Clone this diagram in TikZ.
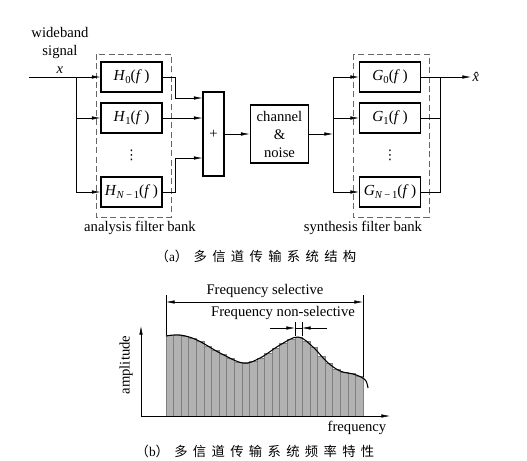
\documentclass[tikz,border=0pt]{standalone}
\usepackage{fontspec}
\setmainfont{Liberation Serif}
\newfontfamily\cjk[LetterSpace=40]{Noto Sans CJK SC}
\newfontfamily\symf{DejaVu Sans}
\usetikzlibrary{calc}
\usetikzlibrary{arrows.meta}
\newcommand{\filtf}[2]{\textit{#1}\raisebox{-0.35ex}{\footnotesize #2}(\textit{f}\,)}
\tikzset{
  filt/.style={draw, thick, minimum width=45.75pt, minimum height=22.5pt, inner sep=0pt, font=\fontsize{11.5}{13.5}\selectfont},
  bank/.style={draw=black!60, semithick, dash pattern=on 4.5pt off 2.5pt},
  sig/.style={-{Latex[length=6.5pt,width=2.6pt]}},
  bar/.style={fill=gray!60, draw=black!50, thin},
  capt/.style={font=\fontsize{10}{12}\selectfont},
  vdot/.style={inner sep=0pt, font=\symf\fontsize{10}{10}\selectfont},
}
\begin{document}
\begin{tikzpicture}[x=0.75pt, y=-0.75pt, font=\fontsize{11}{13.5}\selectfont]
\useasboundingbox (0,0) rectangle (527,460);

% (a) structure
\node[align=center] (src) at (60,50) {wideband\\signal\\\textit{x}};
\coordinate (in) at (29,77);
\coordinate (split) at (76,77);

\node[filt] (h0) at (131.5,77) {\filtf{H}{0}};
\node[filt] (h1) at (131.5,118) {\filtf{H}{1}};
\node[vdot] (hdots) at (131.5,155) {⋮};
\node[filt] (hn1) at (131.5,192) {\filtf{H}{\textit{N}\,−\,1}};
\draw[bank] (96,54) rectangle (171,217);
\node (alab) at (140,228) {analysis filter bank};

\node[draw, thick, minimum width=15.75pt, minimum height=63pt, inner sep=0pt] (sum) at (213.5,134) {+};
\node[draw, thick, align=center, minimum width=44pt, minimum height=43.5pt, inner sep=0pt] (chan) at (279.5,134) {channel\\\&\\noise};

\coordinate (split2) at (333,134);
\node[filt] (g0) at (390,77) {\filtf{G}{0}};
\node[filt] (g1) at (390,118) {\filtf{G}{1}};
\node[vdot] (gdots) at (390,155) {⋮};
\node[filt] (gn1) at (390,192) {\filtf{G}{\textit{N}\,−\,1}};
\draw[bank] (353,54) rectangle (429,217);
\node (slab) at (363,228) {synthesis filter bank};
\coordinate (merge) at (440,77);
\node[anchor=west, inner sep=1pt] (xhat) at (471,77) {\textit{\^x}};

\draw (in) -- (split);
\draw[sig] (split) -- (h0);
\draw[sig] (split |- h1) -- (h1);
\draw[sig] (split) |- (hn1);

\draw[sig] (h0.east) -- ++(13,0) |- ($(sum.west)+(0,-36)$);
\draw[sig] (h1) -- (h1 -| sum.west);
\draw[sig] (hn1.east) -- ++(13,0) |- ($(sum.west)+(0,24)$);
\draw[sig] (sum) -- (chan);

\draw[sig] (chan) -- (split2);
\draw (split2 |- g0) -- (split2 |- gn1);
\draw[sig] (split2 |- g0) -- (g0);
\draw[sig] (split2 |- g1) -- (g1);
\draw[sig] (split2 |- gn1) -- (gn1);

\draw[sig] (g0) -- (xhat);
\draw (g1) -| (merge);
\draw (gn1) -| (merge);

\node[capt] (capa) at (256,256) {{\cjk （}a{\cjk ）多信道传输系统结构}};

% (b) frequency response
\coordinate (o) at (141,416);
\foreach \t [count=\i from 0] in {335.5,335,336,338.5,341.5,346,350,354.5,358.5,362,363,361,358,353,348,343,339,337,341,347,356,363,369,372,373.7,376}
  \filldraw[bar] ({166+7.577*\i},416) rectangle ({166+7.577*(\i+1)},\t);

\draw[thick] plot[smooth, tension=0.6] coordinates {(166,336) (180,335) (197,340) (220,353) (243,363) (260,358) (280,345) (298,337) (313,347) (327,362) (340,371) (353,374) (361,377) (366,381) (368,388)};

\draw[sig] (o) -- (141,326);
\draw[sig] (o) -- (390,416);
\node[rotate=90] (amp) at (126,365) {amplitude};
\node (freq) at (357,428) {frequency};

\draw (166,295) -- (166,335);
\draw (363,295) -- (363,377);
\draw[{Latex[length=6.5pt,width=2.6pt]}-{Latex[length=6.5pt,width=2.6pt]}] (166,302) -- (363,302);
\node (fsel) at (265,291) {Frequency selective};
\node (fnon) at (283,313) {Frequency non-selective};
\draw (295,322) -- (295,336);
\draw (302,322) -- (302,336);
\draw[sig] (270,328) -- (295,328);
\draw[sig] (327,328) -- (302,328);
\draw (295,328) -- (302,328);

\node[capt] (capb) at (255,451) {{\cjk （}b{\cjk ）多信道传输系统频率特性}};
\end{tikzpicture}
\end{document}
